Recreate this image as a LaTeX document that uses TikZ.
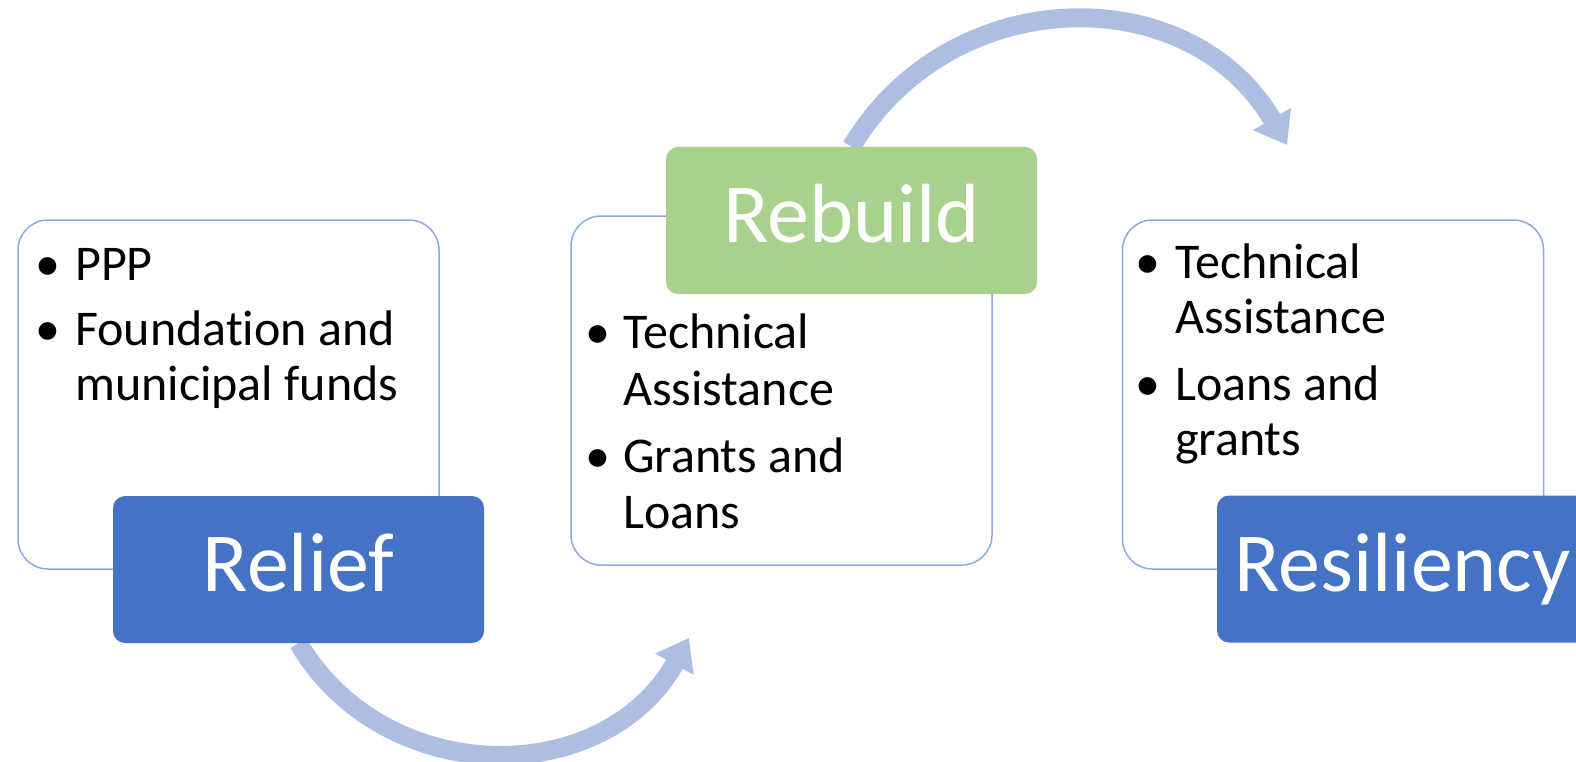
\documentclass[tikz,border=0pt]{standalone}
\usepackage{fontspec}
\setmainfont[RawFeature=-liga]{Carlito}
\usetikzlibrary{arrows.meta,backgrounds}

\definecolor{stageblue}{RGB}{68,114,196}
\definecolor{stagegreen}{RGB}{169,209,142}
\definecolor{flowblue}{RGB}{174,189,226}
\definecolor{panelline}{RGB}{143,170,220}

\tikzset{
  panel/.style={draw=panelline, line width=1.5pt, fill=white, rounded corners=30pt,
    minimum width=421pt, minimum height=349pt},
  stage/.style={rounded corners=12pt, minimum width=371pt, minimum height=147pt,
    text=white, text height=62pt, text depth=18pt, font=\fontsize{84}{100}\selectfont},
  dot/.style={anchor=base, inner sep=0pt, font=\fontsize{50}{55}\selectfont},
  line/.style={anchor=base west, inner sep=0pt, font=\fontsize{50}{55}\selectfont},
  flow/.style={draw=flowblue, line width=19pt, -{Triangle[width=42pt,length=30pt]}}
}

\begin{document}
\begin{tikzpicture}[x=1pt,y=-1pt]
    \useasboundingbox (0,0) rectangle (1576,762);

    % the three panels
    \node[panel] (reliefpanel) at (228.5,394.5) {};
    \node[panel] (rebuildpanel) at (781.5,390.5) {};
    \node[panel] (resiliencypanel) at (1333,394.5) {};

    \node[stage, fill=stageblue] (relief) at (298.5,569.5) {Relief};
    \node[stage, fill=stagegreen] (rebuild) at (851.5,220.5) {Rebuild};
    \node[stage, fill=stageblue] (resiliency) at (1402.5,569) {Resiliency};

    % relief
    \node[dot] (rd1) at (48,280) {•};
    \node[dot] (rd2) at (48,345) {•};
    \node[line] (rl1) at (75,280) {PPP};
    \node[line] (rl2) at (75,345) {Foundation and};
    \node[line] (rl3) at (75,400) {municipal funds};

    % rebuild
    \node[dot] (bd1) at (598,348) {•};
    \node[dot] (bd2) at (598,472) {•};
    \node[line] (bl1) at (623,348) {Technical};
    \node[line] (bl2) at (623,405) {Assistance};
    \node[line] (bl3) at (623,472) {Grants and};
    \node[line] (bl4) at (623,528) {Loans};

    % resiliency
    \node[dot] (sd1) at (1148,278) {•};
    \node[dot] (sd2) at (1148,400) {•};
    \node[line] (sl1) at (1175,278) {Technical};
    \node[line] (sl2) at (1175,333) {Assistance};
    \node[line] (sl3) at (1175,400) {Loans and};
    \node[line] (sl4) at (1175,455) {grants};

    % arrows
    \coordinate (risetip) at (689,638);
    \coordinate (droptip) at (1287,145);
    \begin{scope}[on background layer]
        \draw[flow] (relief.south) .. controls (385,790) and (605,789) .. (risetip);
        \draw[flow] (rebuild.north) .. controls (950,-19) and (1190,-22) .. (droptip);
    \end{scope}
\end{tikzpicture}
\end{document}
